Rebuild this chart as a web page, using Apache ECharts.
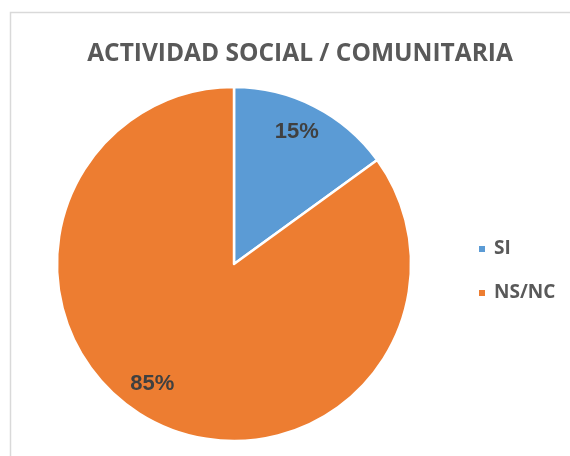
<!DOCTYPE html>
<html><head><meta charset="utf-8">
<script src="https://cdn.jsdelivr.net/npm/echarts@6/dist/echarts.min.js"></script>
<style>html,body{margin:0;padding:0;background:#fff}#c{width:570px;height:456px}</style>
</head><body><div id="c"></div>
<script>
const titleText = 'ACTIVIDAD SOCIAL / COMUNITARIA';
const categories = ['SI', 'NS/NC'];
const values = [15, 85];
const colors = ['#5b9bd5', '#ed7d31'];
const labelOffsets = [[-3, -3], [-16, -9]];

const data = categories.map((n, i) => ({ name: n, value: values[i], itemStyle: { color: colors[i] } }));
const chart = echarts.init(document.getElementById('c'));
chart.setOption({
  animation: false,
  graphic: [{ type: 'rect', shape: { x: 10.5, y: 12.5, width: 700, height: 600 }, style: { fill: 'none', stroke: '#d9d9d9', lineWidth: 1.5 } }],
  title: { text: titleText, left: 295, textAlign: 'center', top: 37,
    textStyle: { fontFamily: 'Open Sans', fontWeight: 'bold', fontSize: 24.5, color: '#595959' } },
  legend: { orient: 'vertical', left: 477, top: 239, padding: 0, itemWidth: 8, itemHeight: 8, itemGap: 24, icon: 'rect',
    data: categories,
    textStyle: { fontFamily: 'Open Sans', fontWeight: 'bold', fontSize: 19, lineHeight: 20, color: '#595959', padding: [0, 0, 0, 3] } },
  series: [
    { type: 'pie', center: [234, 264], radius: [0, 177], startAngle: 90, clockwise: true,
      itemStyle: { borderColor: '#fff', borderWidth: 2.5 }, label: { show: false }, labelLine: { show: false },
      data: data },
    { type: 'pie', center: [234, 264], radius: [107, 177], startAngle: 90, clockwise: true, silent: true,
      itemStyle: { color: 'rgba(0,0,0,0)', borderWidth: 0 },
      label: { show: true, position: 'inside', formatter: p => p.value + '%',
        fontFamily: 'Liberation Sans', fontWeight: 'bold', fontSize: 22, color: '#404040' },
      labelLine: { show: false },
      data: categories.map((n, i) => ({ name: n, value: values[i], label: { offset: labelOffsets[i] } })) }
  ]
});
</script></body></html>
